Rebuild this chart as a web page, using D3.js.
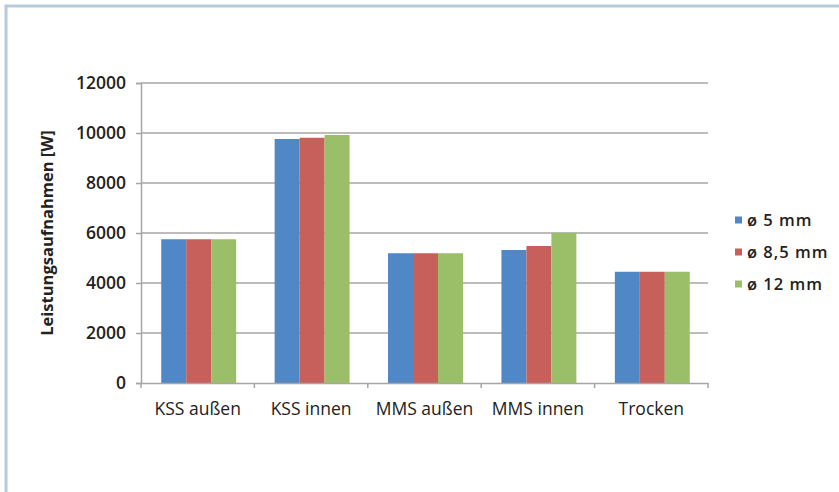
<!DOCTYPE html>
<html><head><meta charset="utf-8">
<script src="https://cdn.jsdelivr.net/npm/d3@7"></script>
<style>
body{margin:0;background:#fff;}
svg{display:block;}
</style></head>
<body>
<svg id="chart" width="839" height="492"></svg>
<script>
const categories = ["KSS außen", "KSS innen", "MMS außen", "MMS innen", "Trocken"];
const seriesNames = ["ø 5 mm", "ø 8,5 mm", "ø 12 mm"];
const values5 = [5750, 9760, 5190, 5320, 4450];
const values85 = [5750, 9810, 5190, 5480, 4450];
const values12 = [5750, 9920, 5190, 6010, 4450];
const yTicks = [0, 2000, 4000, 6000, 8000, 10000, 12000];
const colors = ["#5087c6", "#c75f5a", "#9bbf68"];

(function () {
const series = [values5, values85, values12];
const svg = d3.select("#chart");

// frame
svg.append("rect").attr("x", 6).attr("y", 6).attr("width", 850).attr("height", 500)
  .attr("fill", "none").attr("stroke", "#b7cad9").attr("stroke-width", 3);

const mLeft = 141, mRight = 708, mTop = 83, mBottom = 383;
const x = d3.scaleBand().domain(categories).range([mLeft, mRight]).paddingInner(0).paddingOuter(0);
const xs = d3.scaleBand().domain(d3.range(series.length)).range([0, x.bandwidth()]).paddingOuter(0.77).paddingInner(0);
const y = d3.scaleLinear().domain([0, 12000]).range([mBottom, mTop]);

// gridlines
svg.append("g").selectAll("line").data(yTicks.filter(d => d > 0)).join("line")
  .attr("x1", mLeft).attr("x2", mRight)
  .attr("y1", d => y(d)).attr("y2", d => y(d))
  .attr("stroke", "#a6a6a6").attr("stroke-width", 1.5);

// bars
const g = svg.append("g");
categories.forEach((c, i) => {
  series.forEach((s, j) => {
    g.append("rect")
      .attr("x", x(c) + xs(j) + 1)
      .attr("y", y(s[i]))
      .attr("width", xs.bandwidth())
      .attr("height", y(0) - y(s[i]))
      .attr("fill", colors[j]);
  });
});

// y axis
const yAxis = d3.axisLeft(y).tickValues(yTicks).tickSize(5).tickPadding(10).tickFormat(d3.format("d"));
const ya = svg.append("g").attr("transform", `translate(${mLeft},0)`).call(yAxis);
ya.select(".domain").attr("stroke", "#a6a6a6").attr("stroke-width", 1.5);
ya.selectAll(".tick line").attr("stroke", "#a6a6a6").attr("stroke-width", 1.5);
ya.selectAll("text").attr("font-family", "Open Sans").attr("font-size", "17.5px").attr("font-weight", 600).attr("fill", "#222");

// x axis
const xAxis = d3.axisBottom(x).tickSize(0).tickPadding(20);
const xa = svg.append("g").attr("transform", `translate(0,${mBottom})`).call(xAxis);
xa.select(".domain").attr("stroke", "#a6a6a6").attr("stroke-width", 1.5);
xa.selectAll("text").attr("font-family", "Open Sans").attr("font-size", "17.5px").attr("font-weight", 500).attr("fill", "#222");
// category boundary ticks
svg.append("g").selectAll("line").data(categories.concat(["end"])).join("line")
  .attr("x1", (d, i) => i < categories.length ? x(d) : mRight)
  .attr("x2", (d, i) => i < categories.length ? x(d) : mRight)
  .attr("y1", mBottom).attr("y2", mBottom + 5)
  .attr("stroke", "#a6a6a6").attr("stroke-width", 1.5);

// y title
svg.append("text").attr("transform", "translate(53,233) rotate(-90)")
  .attr("text-anchor", "middle").attr("font-family", "Open Sans").attr("font-weight", 700)
  .attr("font-size", "16.5px").attr("fill", "#222").text("Leistungsaufnahmen [W]");

// legend
const lg = svg.append("g").attr("transform", "translate(735,220)");
seriesNames.forEach((n, i) => {
  const row = lg.append("g").attr("transform", `translate(0,${i * 32})`);
  row.append("rect").attr("x", 0).attr("y", -3.5).attr("width", 7).attr("height", 7).attr("fill", colors[i]);
  row.append("text").attr("x", 12).attr("y", 0).attr("dy", "0.35em")
    .attr("font-family", "Open Sans").attr("font-weight", 600).attr("font-size", "16.5px")
    .attr("letter-spacing", "1px").attr("fill", "#222").text(n);
});
})();
</script>
</body></html>
